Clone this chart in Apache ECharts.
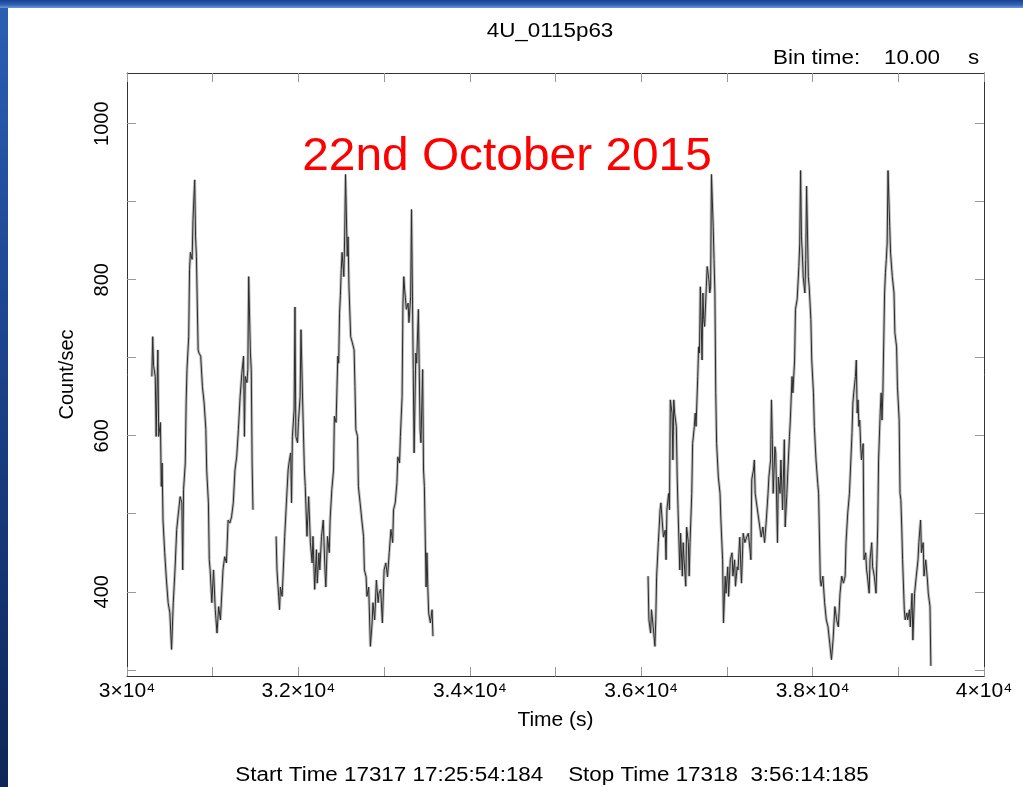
<!DOCTYPE html>
<html><head><meta charset="utf-8">
<script src="https://cdn.jsdelivr.net/npm/echarts@6/dist/echarts.min.js"></script>
<style>
html,body{margin:0;padding:0;width:1023px;height:787px;overflow:hidden;background:#163a80;}
#bg{position:absolute;left:0;top:0;width:1023px;height:787px;
 background:linear-gradient(to bottom,#2a5fb4 0%,#1d4591 40%,#0e2658 100%);}
#topband{position:absolute;left:0;top:0;width:1023px;height:8px;
 background:linear-gradient(to bottom,#1a3f8e 0%,#2f62b8 60%,#6f97d6 100%);}
#panel{position:absolute;left:8px;top:8px;width:1015px;height:779px;background:#fff;}
#chart{position:absolute;left:0;top:0;width:1023px;height:787px;}
</style></head>
<body>
<div id="bg"></div><div id="topband"></div><div id="panel"></div>
<div id="chart"></div>
<script>
// ---- data (time in s, rate in count/sec), 10 s bins ----
const seg1aTime = [30290,30300,30310,30330,30340,30360,30370,30390,30400,30410,30420,30440,30460,30480,30500,30520,30540,30560,30580,30600,30620,30640,30650,30660,30680,30690,30700,30720,30730,30740,30760,30770,30790,30800,30810,30830,30840,30860,30880,30900,30920,30930,30950,30960,30970,30990,31010,31030,31050,31070,31090,31110,31120,31140,31160,31180,31200,31220,31240,31260,31280,31300,31320,31340,31360,31370,31380,31400,31410,31420,31440,31450,31460,31470];
const seg1aRate = [676,727,690,676,599,710,599,617,535,565,492,450,415,386,373,326,386,428,480,501,522,514,428,531,565,642,685,727,813,835,826,877,928,855,830,710,706,702,663,642,608,556,514,441,428,386,428,377,347,381,364,406,428,445,437,492,488,496,514,556,573,608,650,680,702,599,676,668,685,804,706,685,565,505];

const seg1bTime = [31740,31750,31770,31780,31790,31810,31820,31840,31860,31880,31890,31910,31920,31930,31950,31960,31970,31990,32000,32020,32030,32050,32070,32080,32100,32120,32140,32160,32170,32190,32210,32220,32240,32250,32270,32290,32310,32320,32340,32360,32370,32390,32410,32420,32440,32450,32460,32470,32480,32490,32500,32510,32530,32540,32550,32570,32580,32590,32610,32630,32650,32660,32670,32690,32700,32720,32740,32760,32770,32790,32800,32820,32840,32860,32870,32890,32910,32930,32940,32960,32980,33000,33020,33040,33060,33080,33100,33110,33130,33150,33160,33180,33190,33210,33220,33230,33240,33260,33280,33290,33310,33320,33340,33350,33370,33380,33400,33420,33430,33450,33460,33470,33490,33500,33510,33520,33540,33560,33570];
const seg1bRate = [471,428,394,377,406,394,419,471,514,556,565,578,514,599,633,765,599,591,617,650,736,642,556,535,471,522,463,437,471,403,454,411,450,428,471,492,428,406,471,450,492,531,556,625,617,660,702,693,757,780,813,835,804,855,935,830,855,791,727,719,710,663,608,599,535,514,492,471,428,419,394,406,330,360,386,364,415,386,398,403,360,428,437,419,450,480,463,505,514,540,573,565,599,650,770,804,787,762,770,745,778,890,685,578,706,693,762,608,591,685,556,535,406,450,406,373,360,377,343];

const seg2Time = [36080,36090,36110,36120,36140,36160,36170,36180,36200,36210,36220,36230,36250,36260,36280,36290,36300,36320,36330,36340,36360,36370,36380,36390,36410,36420,36430,36450,36460,36480,36490,36500,36520,36530,36550,36560,36570,36590,36600,36620,36630,36640,36660,36670,36680,36690,36710,36720,36730,36740,36760,36770,36790,36800,36810,36820,36840,36850,36860,36870,36880,36900,36920,36930,36950,36960,36980,36990,37010,37020,37040,37060,37070,37090,37100,37120,37130,37150,37170,37190,37210,37230,37250,37270,37280,37290,37310,37320,37330,37400,37420,37440,37460,37480,37490,37510,37520,37530,37540,37560,37570,37590,37600,37620,37630,37650,37670,37680,37700,37710,37730,37740,37760,37770,37790,37800,37820,37840,37850,37860,37870,37880,37890,37910,37920,37930,37950,37960,37980,37990,38010,38020,38040,38060,38070,38090,38100,38120,38140,38160,38180,38200,38220,38240,38260,38280,38300,38320,38340,38360,38380,38390,38410,38430,38450,38460,38470,38480,38500,38510,38520,38530,38540,38550,38560,38570,38590,38600,38620,38630,38640,38660,38670,38690,38700,38720,38740,38750,38760,38770,38790,38800,38810,38820,38840,38850,38860,38870,38880,38900,38910,38930,38950,38960,38980,38990,39010,39020,39030,39040,39050,39070,39080,39100,39110,39130,39140,39160,39170,39190,39210,39230,39240,39260,39270,39290,39300,39320,39340,39350,39370,39380];
const seg2Rate = [420,364,347,377,355,330,364,420,463,483,505,514,483,470,479,441,505,526,505,646,629,569,646,629,612,547,505,428,475,420,463,441,407,483,463,420,463,526,590,612,629,612,676,714,706,791,697,783,749,740,791,817,800,783,791,935,868,826,783,655,590,547,526,492,441,360,420,398,432,394,441,450,420,441,407,432,428,470,411,475,463,470,475,454,441,544,556,569,526,470,483,463,492,526,547,569,646,595,526,586,578,463,547,526,569,505,595,483,526,552,599,620,676,655,697,762,775,817,847,940,855,834,804,783,826,920,804,791,749,697,655,612,569,539,526,415,407,420,386,364,355,334,313,340,381,364,355,398,420,411,420,463,501,526,578,604,642,655,676,697,629,646,612,620,590,569,590,441,450,428,420,398,441,463,432,420,398,441,483,569,633,655,620,655,783,809,826,847,940,868,834,804,783,732,714,663,620,526,518,483,441,377,364,373,364,377,355,398,338,398,420,441,463,492,450,463,420,441,415,398,381,305];

// ---- axes ----
const xTickValues = [30000,32000,34000,36000,38000,40000];
const xTickLabels = ['3×10⁴','3.2×10⁴','3.4×10⁴','3.6×10⁴','3.8×10⁴','4×10⁴'];
const yLabelValues = [400,600,800,1000];
const yTickValues = [300,400,500,600,700,800,900,1000];
const xMin = 30000, xMax = 40000, xStep = 1000;
const yMin = 292, yMax = 1065;

const FONT = 'Liberation Sans, Arial, sans-serif';
const zip = (t, r) => t.map((v, i) => [v, r[i]]);
const segs = [zip(seg1aTime, seg1aRate), zip(seg1bTime, seg1bRate), zip(seg2Time, seg2Rate)];

const chart = echarts.init(document.getElementById('chart'), null, {renderer:'canvas'});
const frameColor = '#333';
const tickColor = '#999';

const series = [];
segs.forEach(d => {
  series.push({type:'line', data:d, showSymbol:false, silent:true, animation:false,
    lineStyle:{color:'rgba(140,140,140,0.55)', width:3}, z:2});
  series.push({type:'line', data:d, showSymbol:false, silent:true, animation:false,
    lineStyle:{color:'#2b2b2b', width:1}, z:3});
});

const SX = 1.12; // horizontal stretch of the original picture's text
function txt(text, x, y, size, align, color, extra) {
  return Object.assign({type:'text', x:x, y:y, scaleX:SX, z:10,
    style:{text:text, fontFamily:FONT, fontSize:size, fill:color || '#000',
      textAlign:align, textVerticalAlign:'middle'}}, extra || {});
}

chart.setOption({
  animation:false,
  grid:{left:127, right:39, top:73, bottom:111, containLabel:false},
  xAxis:[{
    type:'value', min:xMin, max:xMax, interval:xStep, position:'bottom',
    name:'Time (s)', nameLocation:'middle', nameGap:34,
    nameTextStyle:{fontFamily:FONT, fontSize:21, color:'#000'},
    axisLine:{show:true, onZero:false, lineStyle:{color:frameColor, width:1}},
    axisTick:{show:true, inside:true, length:9, lineStyle:{color:tickColor}},
    axisLabel:{fontFamily:FONT, fontSize:21, color:'#000', margin:5,
      formatter:v => { const i = xTickValues.indexOf(v); return i >= 0 ? xTickLabels[i] : ''; }},
    splitLine:{show:false}
  },{
    type:'value', min:xMin, max:xMax, interval:xStep, position:'top',
    axisLine:{show:true, onZero:false, lineStyle:{color:frameColor, width:1}},
    axisTick:{show:true, inside:true, length:9, lineStyle:{color:tickColor}},
    axisLabel:{show:false}, splitLine:{show:false}
  }],
  yAxis:[{
    type:'value', min:yMin, max:yMax, position:'left',
    name:'Count/sec', nameLocation:'middle', nameGap:50, nameRotate:90,
    nameTextStyle:{fontFamily:FONT, fontSize:20, color:'#000'},
    axisLine:{show:true, onZero:false, lineStyle:{color:frameColor, width:1}},
    axisTick:{show:true, inside:true, length:9, customValues:yTickValues, lineStyle:{color:tickColor}},
    axisLabel:{fontFamily:FONT, fontSize:20, color:'#000', rotate:90, margin:15,
      customValues:yLabelValues, formatter:v => String(v)},
    splitLine:{show:false}
  },{
    type:'value', min:yMin, max:yMax, position:'right',
    axisLine:{show:true, onZero:false, lineStyle:{color:frameColor, width:1}},
    axisTick:{show:true, inside:true, length:9, customValues:yTickValues, lineStyle:{color:tickColor}},
    axisLabel:{show:false}, splitLine:{show:false}
  }],
  series:series,
  graphic:[
    txt('4U_0115p63', 550, 31, 20, 'center'),
    txt('Bin time:', 773, 58, 20, 'left'),
    txt('10.00', 884, 58, 20, 'left'),
    txt('s', 968, 58, 20, 'left'),
    txt('22nd October 2015', 507, 157, 46, 'center', '#ff0000', {scaleX:1.04}),
    txt('Start Time 17317 17:25:54:184    Stop Time 17318  3:56:14:185', 552, 775, 20, 'center')
  ]
});
</script>
</body></html>
